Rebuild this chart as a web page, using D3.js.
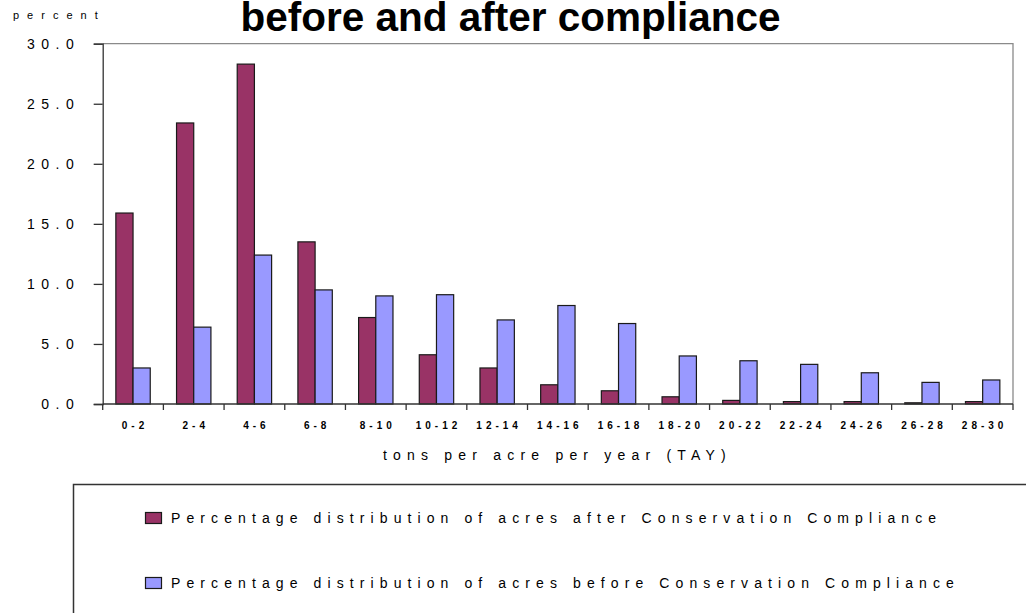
<!DOCTYPE html>
<html>
<head>
<meta charset="utf-8">
<script src="https://cdn.jsdelivr.net/npm/d3@7"></script>
<style>
  html, body { margin: 0; padding: 0; background: #fff; }
  svg { display: block; font-family: "Liberation Sans", Arial, sans-serif; }
</style>
</head>
<body>
<svg id="chart" width="1026" height="613"></svg>
<script>
// Erosion-rate classes (tons per acre per year)
const categories = ["0-2", "2-4", "4-6", "6-8", "8-10", "10-12", "12-14", "14-16",
                    "16-18", "18-20", "20-22", "22-24", "24-26", "26-28", "28-30"];

// Percentage distribution of acres after Conservation Compliance
const afterValues = [15.9, 23.4, 28.3, 13.5, 7.2, 4.1, 3.0, 1.6, 1.1, 0.6, 0.3, 0.2, 0.2, 0.1, 0.2];

// Percentage distribution of acres before Conservation Compliance
const beforeValues = [3.0, 6.4, 12.4, 9.5, 9.0, 9.1, 7.0, 8.2, 6.7, 4.0, 3.6, 3.3, 2.6, 1.8, 2.0];

const yTicks = [0, 5, 10, 15, 20, 25, 30];

const seriesNames = ["after", "before"];
const seriesLabels = [
  "Percentage distribution of acres after Conservation Compliance",
  "Percentage distribution of acres before Conservation Compliance"
];
const seriesColors = ["#993366", "#9999FF"];

const svg = d3.select("#chart");

const plot = { left: 102.7, right: 1013, top: 43.7, bottom: 404 };

const x = d3.scaleBand().domain(categories).range([plot.left, plot.right]).padding(0);
const xs = d3.scaleBand().domain(seriesNames).range([0, x.bandwidth()])
  .paddingInner(0).paddingOuter(0.765);
const y = d3.scaleLinear().domain([0, 30]).range([plot.bottom, plot.top]);

// Title
svg.append("text")
  .attr("x", 510.5).attr("y", 31)
  .attr("text-anchor", "middle")
  .attr("font-size", 40.5).attr("font-weight", "bold")
  .attr("fill", "#000")
  .text("before and after compliance");

// Y-axis unit label
svg.append("text")
  .attr("x", 13).attr("y", 19)
  .attr("font-size", 11).attr("letter-spacing", 8)
  .attr("fill", "#000")
  .text("percent");

// Plot frame: top and right edges
svg.append("path")
  .attr("d", `M${plot.left},${plot.top}H${plot.right}V${plot.bottom}`)
  .attr("fill", "none").attr("stroke", "#8a8a8a").attr("stroke-width", 1.3);

// Bars
const rows = categories.map((c, i) => ({ cat: c, vals: [afterValues[i], beforeValues[i]] }));
const groups = svg.append("g").selectAll("g").data(rows).join("g")
  .attr("transform", d => `translate(${x(d.cat)},0)`);
groups.selectAll("rect")
  .data(d => d.vals.map((v, k) => ({ key: seriesNames[k], v, k })))
  .join("rect")
  .attr("x", d => xs(d.key))
  .attr("y", d => y(d.v))
  .attr("width", xs.bandwidth())
  .attr("height", d => y(0) - y(d.v))
  .attr("fill", d => seriesColors[d.k])
  .attr("stroke", "#1a1a1a").attr("stroke-width", 1.2);

// Y axis
const yAxis = d3.axisLeft(y).tickValues(yTicks).tickSize(9).tickPadding(20)
  .tickFormat(d3.format(".1f"));
const gy = svg.append("g").attr("transform", `translate(${plot.left},0)`).call(yAxis);
gy.select(".domain").attr("stroke", "#333").attr("stroke-width", 1.3);
gy.selectAll(".tick line").attr("stroke", "#333").attr("stroke-width", 1.3);
gy.selectAll(".tick text")
  .attr("font-size", 14).attr("letter-spacing", 6.5)
  .attr("font-family", "\"Liberation Sans\", Arial, sans-serif")
  .attr("fill", "#000")
  .attr("dx", 6.5);

// X axis: ticks on category boundaries
const boundaries = categories.map(c => x(c)).concat([plot.right]);
svg.append("line")
  .attr("x1", plot.left).attr("x2", plot.right)
  .attr("y1", plot.bottom).attr("y2", plot.bottom)
  .attr("stroke", "#333").attr("stroke-width", 1.3);
svg.append("g").selectAll("line").data(boundaries).join("line")
  .attr("x1", d => d).attr("x2", d => d)
  .attr("y1", plot.bottom).attr("y2", plot.bottom + 6)
  .attr("stroke", "#333").attr("stroke-width", 1.3);
svg.append("g").selectAll("text").data(categories).join("text")
  .attr("x", d => x(d) + x.bandwidth() / 2 + 2)
  .attr("y", 429)
  .attr("text-anchor", "middle")
  .attr("font-size", 10).attr("font-weight", "bold").attr("letter-spacing", 4)
  .attr("fill", "#000")
  .text(d => d);

// X-axis title
svg.append("text")
  .attr("x", 383).attr("y", 460)
  .attr("font-size", 14).attr("letter-spacing", 6.2)
  .attr("fill", "#000")
  .text("tons per acre per year (TAY)");

// Legend
svg.append("rect")
  .attr("x", 73.5).attr("y", 484.5).attr("width", 1000).attr("height", 200)
  .attr("fill", "#fff").attr("stroke", "#333").attr("stroke-width", 1.5);
const legendRows = [518, 583];
const legend = svg.append("g").selectAll("g").data(seriesLabels).join("g")
  .attr("transform", (d, i) => `translate(0,${legendRows[i]})`);
legend.append("rect")
  .attr("x", 145.5).attr("y", -5.5).attr("width", 16).attr("height", 11)
  .attr("fill", (d, i) => seriesColors[i])
  .attr("stroke", "#1a1a1a").attr("stroke-width", 1.2);
legend.append("text")
  .attr("x", 171).attr("y", 5)
  .attr("font-size", 14).attr("letter-spacing", 6.1)
  .attr("fill", "#000")
  .text(d => d);
</script>
</body>
</html>
